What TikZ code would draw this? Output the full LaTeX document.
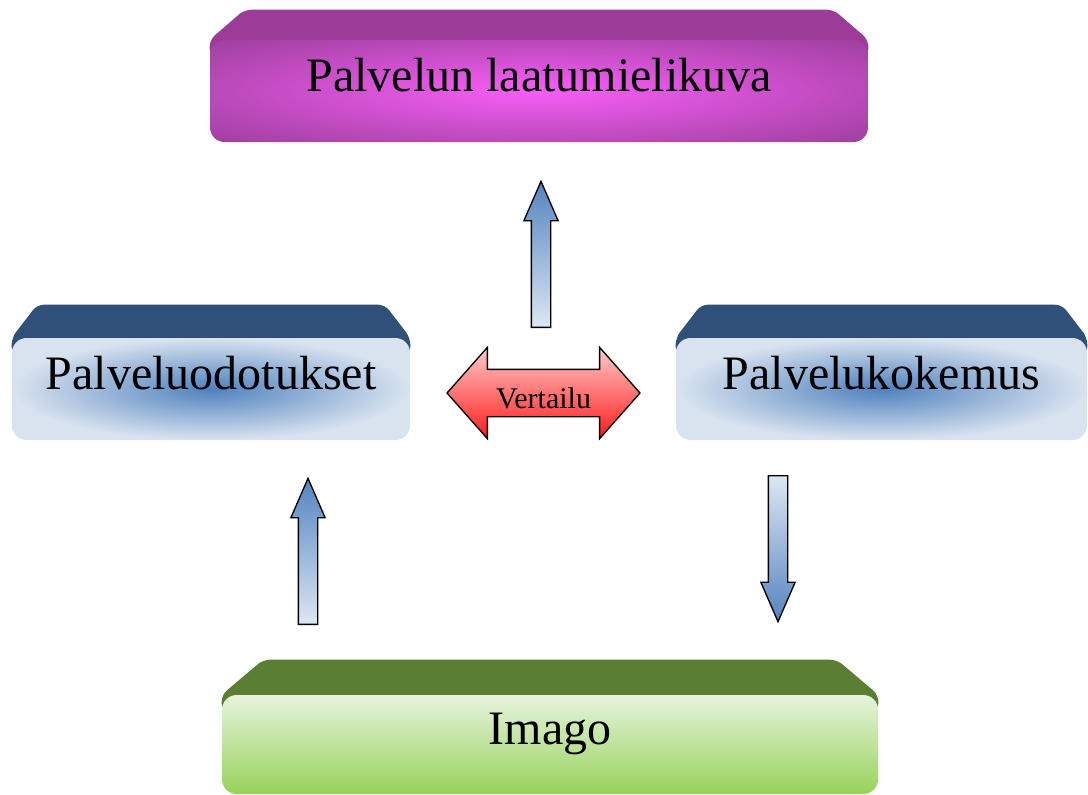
\documentclass[tikz,border=0pt]{standalone}
\usepackage{fontspec}
\setmainfont{Liberation Serif}
\usepackage{tikz}
\usetikzlibrary{shapes.arrows, backgrounds, calc}

\definecolor{purpletop}{HTML}{9A3C98}
\definecolor{purpleedge}{HTML}{9D3F9D}
\definecolor{purpleglow}{HTML}{F85EF8}
\definecolor{bluetop}{HTML}{2F5078}
\definecolor{blueedge}{HTML}{D9E3F0}
\definecolor{blueglow}{HTML}{4F81BD}
\definecolor{greentop}{HTML}{5A7E32}
\definecolor{greenlight}{HTML}{E7F3DD}
\definecolor{greendark}{HTML}{97D25A}
\definecolor{arrowhead}{HTML}{5483C0}
\definecolor{arrowtail}{HTML}{DDE7F3}
\definecolor{redlight}{HTML}{FFCACA}
\definecolor{reddark}{HTML}{FF1C1C}

\pgfdeclareradialshading{pinkglow}{\pgfpointorigin}{%
  color(0bp)=(purpleglow); color(36bp)=(purpleedge); color(50bp)=(purpleedge)}

\tikzset{
  face/.style={rectangle, rounded corners=11pt, inner sep=0pt,
               minimum height=76.5pt, text height=20pt, text depth=20pt,
               font=\fontsize{36}{40}\selectfont},
  facepurple/.style={face, shade, shading=pinkglow},
  faceblue/.style={face, inner color=blueglow, outer color=blueedge},
  facegreen/.style={face, top color=greenlight,
                    middle color=greenlight!55!greendark, bottom color=greendark},
  topface/.style={rounded corners=5pt},
  vertarrow/.style={single arrow, draw=black, line width=1pt,
                    inner xsep=0pt, inner ysep=6.75pt,
                    single arrow head extend=5.6pt,
                    single arrow tip angle=47, single arrow head indent=0pt,
                    minimum height=109.5pt},
  uparrow/.style={vertarrow, rotate=90, anchor=tail,
                  top color=arrowhead, bottom color=arrowtail},
  downarrow/.style={vertarrow, rotate=-90, anchor=tail,
                    top color=arrowtail, bottom color=arrowhead},
  comparearrow/.style={double arrow, draw=black, line width=1pt,
                       inner xsep=0pt, inner ysep=5.75pt,
                       text height=23pt, text depth=0pt,
                       double arrow head extend=16.5pt,
                       double arrow tip angle=97, double arrow head indent=0pt,
                       minimum height=144.75pt,
                       top color=redlight, bottom color=reddark,
                       font=\fontsize{22.5}{24}\selectfont},
}

\begin{document}
\begin{tikzpicture}[x=0.75pt, y=-0.75pt]
  \useasboundingbox (0,0) rectangle (1088,794);

  % Boxes
  \node[facepurple, minimum width=493.5pt] (image) at (539,91)
    {Palvelun laatumielikuva};
  \node[faceblue, minimum width=298.5pt] (expect) at (211,389)
    {Palveluodotukset};
  \node[faceblue, minimum width=308.25pt] (exper) at (881.5,389)
    {Palvelukokemus};
  \node[facegreen, minimum width=492pt, minimum height=74.25pt] (imago)
    at (550,744.5) {Imago};

  % Top faces
  \begin{scope}[on background layer]
    \fill[topface, purpletop] ([yshift=-12pt]image.north west)
      -- (image.north west) -- ([xshift=26pt, yshift=22.5pt]image.north west)
      -- ([xshift=-26pt, yshift=22.5pt]image.north east)
      -- (image.north east) -- ([yshift=-12pt]image.north east) -- cycle;
    \fill[topface, bluetop] ([yshift=-12pt]expect.north west)
      -- (expect.north west) -- ([xshift=19pt, yshift=24.75pt]expect.north west)
      -- ([xshift=-19pt, yshift=24.75pt]expect.north east)
      -- (expect.north east) -- ([yshift=-12pt]expect.north east) -- cycle;
    \fill[topface, bluetop] ([yshift=-12pt]exper.north west)
      -- (exper.north west) -- ([xshift=19pt, yshift=24.75pt]exper.north west)
      -- ([xshift=-19pt, yshift=24.75pt]exper.north east)
      -- (exper.north east) -- ([yshift=-12pt]exper.north east) -- cycle;
    \fill[topface, greentop] ([yshift=-12pt]imago.north west)
      -- (imago.north west) -- ([xshift=31pt, yshift=26.25pt]imago.north west)
      -- ([xshift=-31pt, yshift=26.25pt]imago.north east)
      -- (imago.north east) -- ([yshift=-12pt]imago.north east) -- cycle;
  \end{scope}

  % Arrows
  \node[uparrow] (toimage) at (541,328) {};
  \node[uparrow] (toexpect) at (308,625) {};
  \node[downarrow] (toimago) at (778,475) {};
  \node[comparearrow] (compare) at (543.5,393) {Vertailu};
\end{tikzpicture}
\end{document}
